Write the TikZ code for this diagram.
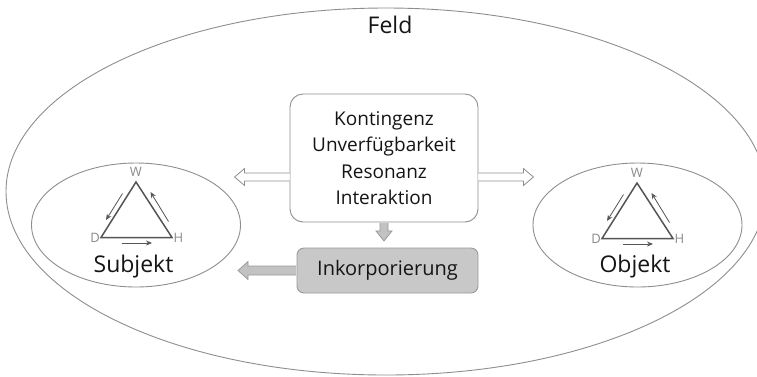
\documentclass[tikz,border=0pt]{standalone}
\usepackage{fontspec}
\setmainfont{Open Sans}
\usetikzlibrary{calc,arrows.meta}
\definecolor{rim}{HTML}{8E8E8E}
\definecolor{ink}{HTML}{151515}
\definecolor{tri}{HTML}{555555}
\definecolor{lbl}{HTML}{8A8A8A}
\definecolor{boxfill}{HTML}{C8C8C8}
\definecolor{arrfill}{HTML}{C2C2C2}
\definecolor{arrline}{HTML}{9A9A9A}
\tikzset{
  rimline/.style={draw=rim, line width=0.9pt},
  infobox/.style={rimline, rounded corners=13pt, fill=white, minimum width=188pt, minimum height=128pt,
    align=center, text=ink, font=\fontsize{19}{26.3}\selectfont},
  incbox/.style={draw=arrline, line width=0.9pt, rounded corners=7pt, fill=boxfill, minimum width=181pt,
    minimum height=45pt, text=ink, font=\fontsize{20}{24}\selectfont},
  bigtext/.style={text=ink, font=\fontsize{23}{26}\selectfont},
  hollowarrow/.style={draw=rim, line width=0.8pt, fill=white, line join=miter},
  fullarrow/.style={draw=arrline, line width=0.8pt, fill=arrfill, line join=miter},
  vlabel/.style={text=lbl, font=\fontsize{13}{13}\selectfont, inner sep=0pt},
  side/.style={draw=tri, line width=1.5pt, line join=miter},
  flow/.style={draw=tri, line width=0.8pt, -{Stealth[length=6pt,width=5pt]}},
  pics/dhw/.style={code={
    \coordinate (-W) at (0,-43);
    \coordinate (-D) at (-35,12.5);
    \coordinate (-H) at (36,12.5);
    \draw[side] (-W) -- (-D) -- (-H) -- cycle;
    \node[vlabel] (-wl) at (0,-53) {W};
    \node[vlabel, anchor=east] (-dl) at ($(-D)+(-1,0)$) {D};
    \node[vlabel, anchor=west] (-hl) at ($(-H)+(1.5,0)$) {H};
    \draw[flow] (-13.5,-31.5) -- (-30,-5);
    \draw[flow] (32.5,-3.5) -- (14.5,-33);
    \draw[flow] (-14.5,18) -- (16,18);
  }}
}
\begin{document}
\begin{tikzpicture}[x=1pt,y=-1pt]
  \useasboundingbox (0,0) rectangle (757,376);
  \fill[white] (0,0) rectangle (757,376);

  % the field
  \begin{scope}
    \clip (0,0) rectangle (757,376);
    \draw[rimline] (386,191.5) ellipse [x radius=380pt, y radius=183.5pt];
  \end{scope}
  \node[bigtext] (feld) at (390,25) {Feld};

  % subject and object with their W-D-H triangles
  \draw[rimline] (136,225) ellipse [x radius=104.5pt, y radius=62pt];
  \coordinate (subj) at (136,225);
  \pic (st) at (subj) {dhw};
  \node[bigtext, anchor=base] (subjekt) at (133.5,272) {Subjekt};

  \draw[rimline] (637.5,225) ellipse [x radius=104.5pt, y radius=62pt];
  \coordinate (obj) at (637,226);
  \pic (ot) at (obj) {dhw};
  \node[bigtext, anchor=base] (objekt) at (635,272) {Objekt};

  % central box
  \node[infobox] (ctr) at (384,158) {Kontingenz\\Unverfügbarkeit\\Resonanz\\Interaktion};

  % incorporation box
  \node[incbox] (inc) at (387.5,270.5) {Inkorporierung};

  % hollow arrows from the central box to both sides
  \draw[hollowarrow] ($(ctr.west)+(0,19)$) ++(0,-4) -- ++(-45,0) -- ++(0,-4.5) -- ++(-10,8.5)
    -- ++(10,8.5) -- ++(0,-4.5) -- ++(45,0);
  \draw[hollowarrow] ($(ctr.east)+(0,19)$) ++(0,-4) -- ++(45,0) -- ++(0,-4.5) -- ++(10,8.5)
    -- ++(-10,8.5) -- ++(0,-4.5) -- ++(-45,0);

  % downward arrow into the incorporation box
  \draw[fullarrow] ($(ctr.south)+(-4,0.5)$) -- ++(0,8) -- ++(-4,0) -- ++(8,10) -- ++(8,-10)
    -- ++(-4,0) -- ++(0,-8);

  % arrow from incorporation back to the subject
  \draw[fullarrow] ($(inc.west)+(-0.5,-4.5)$) -- ++(-48,0) -- ++(0,-4.5) -- ++(-10,9) -- ++(10,9)
    -- ++(0,-4.5) -- ++(48,0);
\end{tikzpicture}
\end{document}
